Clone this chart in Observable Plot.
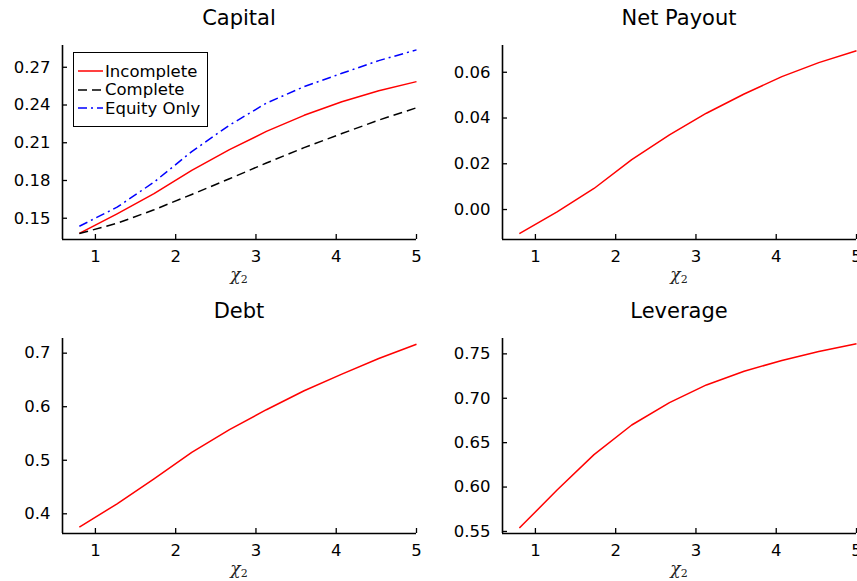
<!DOCTYPE html>
<html>
<head>
<meta charset="utf-8">
<script src="https://cdn.jsdelivr.net/npm/d3@7"></script>
<script src="https://cdn.jsdelivr.net/npm/@observablehq/plot@0.6"></script>
<style>
  html, body { margin: 0; padding: 0; background: #fff; }
  #wrap { position: relative; width: 857px; height: 581px; overflow: hidden; background: #fff; font-family: "DejaVu Sans", sans-serif; color: #000; }
  .panel { position: absolute; }
  .title { position: absolute; width: 354px; text-align: center; font-size: 21px; line-height: 25px; white-space: nowrap; }
  .xlab { position: absolute; width: 354px; text-align: center; font-family: "DejaVu Serif", serif; font-style: italic; font-size: 17px; color: #222; line-height: 17px; }
  .xlab sub { font-size: 11px; font-style: normal; line-height: 0; vertical-align: -3px; }
  .legend { position: absolute; left: 73px; top: 52px; width: 135px; height: 75px; box-sizing: border-box; border: 1.5px solid #000; background: #fff; }
  .legend .row { position: absolute; left: 3px; height: 18px; display: flex; align-items: center; font-size: 16.5px; white-space: nowrap; }
  .legend svg { display: block; margin-right: 2px; }
</style>
</head>
<body>
<div id="wrap"></div>
<script>
// ---- data ----
const chi2 = [0.8, 1.27, 1.73, 2.2, 2.67, 3.13, 3.6, 4.07, 4.53, 5.0];
const capitalIncomplete = [0.138, 0.1535, 0.1695, 0.1880, 0.2045, 0.2190, 0.2318, 0.2426, 0.2514, 0.2586];
const capitalComplete   = [0.1378, 0.1460, 0.1567, 0.1689, 0.1814, 0.1939, 0.2061, 0.2173, 0.2280, 0.2378];
const capitalEquityOnly = [0.1436, 0.1588, 0.1787, 0.2030, 0.2240, 0.2415, 0.2546, 0.2652, 0.2753, 0.2838];
const netPayout = [-0.0105, -0.0010, 0.0092, 0.0218, 0.0326, 0.0421, 0.0505, 0.0581, 0.0642, 0.0694];
const debt      = [0.3752, 0.4186, 0.4652, 0.5149, 0.5571, 0.5944, 0.6298, 0.6609, 0.6901, 0.7168];
const leverage  = [0.5538, 0.5966, 0.6365, 0.6699, 0.6951, 0.7150, 0.7305, 0.7425, 0.7526, 0.7613];

const titles = ["Capital", "Net Payout", "Debt", "Leverage"];
const seriesNames = ["Incomplete", "Complete", "Equity Only"];
const xTicks = [1, 2, 3, 4, 5];
const capitalTicks = [0.15, 0.18, 0.21, 0.24, 0.27];
const payoutTicks = [0.00, 0.02, 0.04, 0.06];
const debtTicks = [0.4, 0.5, 0.6, 0.7];
const leverageTicks = [0.55, 0.60, 0.65, 0.70, 0.75];

// ---- styles ----
const styles = {
  "Incomplete":  {stroke: "#ff0000", dash: null},
  "Complete":    {stroke: "#000000", dash: "9,5"},
  "Equity Only": {stroke: "#0000ff", dash: "9,4,2,4"}
};
const W = 430, H = 290;
const ML = 62, MR = 14;
const xDomain = [0.59, 5];

const wrap = document.getElementById("wrap");

function toRows(values, name) {
  return chi2.map((x, i) => ({x, y: values[i], name}));
}

function panel({left, top, mt, mb, yDomain, yTicks, fmt, series, title, titleTop}) {
  const innerW = W - ML - MR;
  const innerH = H - mt - mb;
  const marks = [
    Plot.axisX({ticks: xTicks, tickSize: 0, tickPadding: 11, tickFormat: d3.format("d"), label: null, fontSize: 16.5}),
    Plot.axisY({ticks: yTicks, tickSize: 0, tickPadding: 12, tickFormat: d3.format(fmt), label: null, fontSize: 16.5}),
    Plot.tickX(xTicks, {x: d => d, stroke: "#000", strokeWidth: 1.3, insetTop: innerH - 5}),
    Plot.tickY(yTicks, {y: d => d, stroke: "#000", strokeWidth: 1.3, insetRight: innerW - 5}),
    Plot.ruleX([xDomain[0]], {x: d => d, stroke: "#000", strokeWidth: 1.6}),
    Plot.ruleY([yDomain[0]], {y: d => d, stroke: "#000", strokeWidth: 1.6})
  ];
  for (const s of series) {
    marks.push(Plot.line(s.rows, {x: "x", y: "y", stroke: styles[s.name].stroke,
      strokeDasharray: styles[s.name].dash, strokeWidth: 1.5, strokeLinejoin: "round", strokeLinecap: "butt"}));
  }
  const svg = Plot.plot({
    width: W, height: H,
    marginLeft: ML, marginRight: MR, marginTop: mt, marginBottom: mb,
    x: {domain: xDomain},
    y: {domain: yDomain},
    style: {fontFamily: "DejaVu Sans", fontSize: "16px", color: "#000", background: "transparent", overflow: "visible"},
    marks
  });
  svg.classList.add("panel");
  svg.style.left = left + "px";
  svg.style.top = top + "px";
  svg.style.position = "absolute";
  wrap.appendChild(svg);

  const t = document.createElement("div");
  t.className = "title";
  t.textContent = title;
  t.style.left = (left + ML) + "px";
  t.style.top = (top + titleTop) + "px";
  wrap.appendChild(t);

  const xl = document.createElement("div");
  xl.className = "xlab";
  xl.innerHTML = "χ<sub>2</sub>";
  xl.style.left = (left + ML) + "px";
  xl.style.top = (top + H - mb + 27) + "px";
  wrap.appendChild(xl);
}

panel({left: 0, top: 0, mt: 45, mb: 51, yDomain: [0.1331, 0.2873], yTicks: capitalTicks, fmt: ".2f", title: titles[0], titleTop: 6,
  series: [
    {name: seriesNames[0], rows: toRows(capitalIncomplete, seriesNames[0])},
    {name: seriesNames[1], rows: toRows(capitalComplete, seriesNames[1])},
    {name: seriesNames[2], rows: toRows(capitalEquityOnly, seriesNames[2])}
  ]});
panel({left: 440, top: 0, mt: 45, mb: 51, yDomain: [-0.0131, 0.0717], yTicks: payoutTicks, fmt: ".2f", title: titles[1], titleTop: 6,
  series: [{name: seriesNames[0], rows: toRows(netPayout, seriesNames[0])}]});
panel({left: 0, top: 290, mt: 48, mb: 47, yDomain: [0.3632, 0.7274], yTicks: debtTicks, fmt: ".1f", title: titles[2], titleTop: 9,
  series: [{name: seriesNames[0], rows: toRows(debt, seriesNames[0])}]});
panel({left: 440, top: 290, mt: 48, mb: 47, yDomain: [0.5477, 0.7673], yTicks: leverageTicks, fmt: ".2f", title: titles[3], titleTop: 9,
  series: [{name: seriesNames[0], rows: toRows(leverage, seriesNames[0])}]});

// ---- legend ----
const leg = document.createElement("div");
leg.className = "legend";
seriesNames.forEach((name, i) => {
  const row = document.createElement("div");
  row.className = "row";
  row.style.top = (9 + i * 18.5) + "px";
  const st = styles[name];
  row.innerHTML = `<svg width="26" height="18"><line x1="1" y1="9" x2="26" y2="9" stroke="${st.stroke}" stroke-width="1.5" ${st.dash ? `stroke-dasharray="${st.dash}"` : ""}/></svg><span>${name}</span>`;
  leg.appendChild(row);
});
wrap.appendChild(leg);
</script>
</body>
</html>
